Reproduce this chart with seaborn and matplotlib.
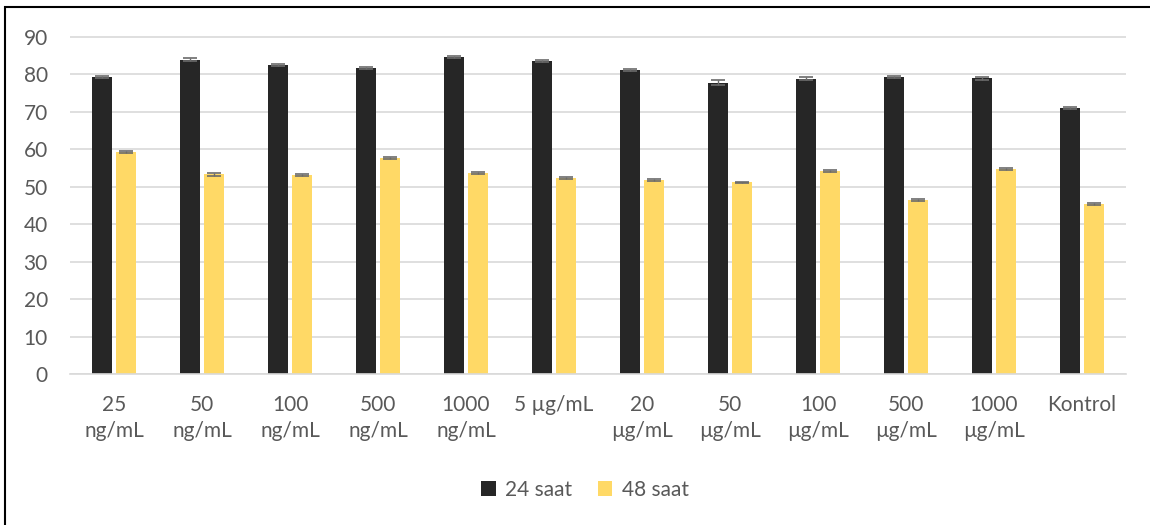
import matplotlib
matplotlib.use("Agg")
import matplotlib.pyplot as plt
import pandas as pd
import seaborn as sns

# values
groups = ["25\nng/mL", "50\nng/mL", "100\nng/mL", "500\nng/mL", "1000\nng/mL",
          "5 µg/mL", "20\nµg/mL", "50\nµg/mL", "100\nµg/mL", "500\nµg/mL",
          "1000\nµg/mL", "Kontrol"]
series = ["24 saat", "48 saat"]
vals_24 = [79.4, 83.9, 82.5, 81.8, 84.7, 83.6, 81.2, 77.8, 78.9, 79.3, 79.0, 71.1]
vals_48 = [59.2, 53.3, 53.1, 57.6, 53.7, 52.4, 51.8, 51.2, 54.2, 46.4, 54.8, 45.4]
err_24 = [0.3, 0.4, 0.3, 0.3, 0.3, 0.3, 0.3, 0.6, 0.3, 0.3, 0.4, 0.3]
err_48 = [0.3, 0.3, 0.3, 0.3, 0.3, 0.2, 0.2, 0.2, 0.3, 0.3, 0.3, 0.2]

df = pd.DataFrame({
    "grup": groups * 2,
    "seri": [series[0]] * len(groups) + [series[1]] * len(groups),
    "deger": vals_24 + vals_48,
    "hata": err_24 + err_48,
})

sns.set_style("white")
plt.rcParams["font.family"] = ["Lato", "DejaVu Sans"]
text_col = "#595959"
fsize = 15

fig = plt.figure(figsize=(11.5, 5.25), dpi=100)
ax = fig.add_axes([70 / 1150, 1 - 374 / 525, 1056 / 1150, (374 - 20) / 525])

palette = {"24 saat": "#262626", "48 saat": "#FFD966"}
sns.barplot(data=df, x="grup", y="deger", hue="seri", palette=palette,
            width=0.56, gap=0.2, errorbar=None, saturation=1, ax=ax,
            edgecolor="none")

# error bars on top of each bar
for cont, s in zip(ax.containers, series):
    errs = df.loc[df["seri"] == s, "hata"].to_list()
    xs = [p.get_x() + p.get_width() / 2 for p in cont.patches]
    ys = [p.get_height() for p in cont.patches]
    ax.errorbar(xs, ys, yerr=errs, fmt="none", ecolor="#6b6b6b",
                elinewidth=1, capsize=5, capthick=1.2, zorder=3)

ax.set_ylim(0, 90 * (374 - 20) / (374 - 37))
ax.set_xlim(-0.5, len(groups) - 0.5)
ax.set_yticks(range(0, 91, 10))
ax.yaxis.grid(True, color="#D9D9D9", linewidth=1.2)
ax.set_axisbelow(True)
for side in ["top", "right", "left"]:
    ax.spines[side].set_visible(False)
ax.spines["bottom"].set_color("#D9D9D9")
ax.spines["bottom"].set_linewidth(1.2)
ax.tick_params(axis="both", length=0, colors=text_col, labelsize=fsize)
ax.tick_params(axis="x", pad=15)
ax.tick_params(axis="y", pad=16)
for lab in ax.get_xticklabels():
    lab.set_linespacing(1.4)
ax.set_xlabel("")
ax.set_ylabel("")

ax.get_legend().remove()
handles, labels = ax.get_legend_handles_labels()
fig.legend(handles, labels, loc="center", bbox_to_anchor=(585 / 1150, 1 - 490 / 525),
           ncol=2, frameon=False, fontsize=fsize, labelcolor=text_col,
           handlelength=0.7, handleheight=0.7, handletextpad=0.45,
           columnspacing=1.2)

# chart border (Excel frame, only left and top inside the image)
fig.add_artist(plt.Rectangle((5 / 1150, -0.1), 1.2, 1 - 7 / 525 + 0.1,
                             transform=fig.transFigure, fill=False,
                             edgecolor="black", linewidth=1.5))

fig.savefig("out.png", dpi=100)
